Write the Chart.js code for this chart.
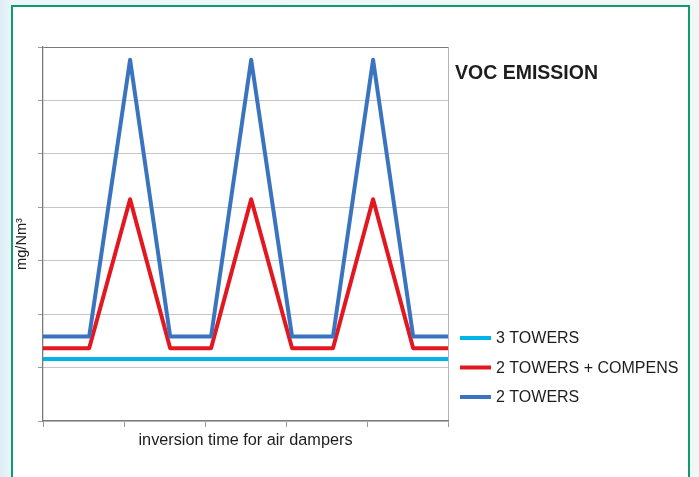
<!DOCTYPE html>
<html>
<head>
<meta charset="utf-8">
<script src="https://cdn.jsdelivr.net/npm/chart.js@4.4.1/dist/chart.umd.min.js"></script>
<style>
  html, body { margin: 0; padding: 0; }
  body {
    width: 699px; height: 477px; overflow: hidden; position: relative;
    background: linear-gradient(90deg, #dcedf4 0px, #eef6f9 12px, #f3f6f7 100%);
  }
  .frame {
    position: absolute; left: 11px; top: 5px; width: 675px; height: 490px;
    border: 2.5px solid #0d9c6c; background: #fff;
  }
  .wrap { position: absolute; left: 0; top: 0; width: 699px; height: 477px; }
</style>
</head>
<body>
<div class="frame"></div>
<div class="wrap"><canvas id="vocChart"></canvas></div>
<script>
// inversion time (x) and emission levels (mg/Nm3)
const xPoints     = [0, 1.14, 2.15, 3.14, 4.15, 5.14, 6.15, 7.16, 8.15, 9.14, 10];
const towers3     = [1.16, 1.16, 1.16, 1.16, 1.16, 1.16, 1.16, 1.16, 1.16, 1.16, 1.16];
const towers2comp = [1.36, 1.36, 4.15, 1.36, 1.36, 4.15, 1.36, 1.36, 4.15, 1.36, 1.36];
const towers2     = [1.58, 1.58, 6.76, 1.58, 1.58, 6.76, 1.58, 1.58, 6.76, 1.58, 1.58];
const seriesNames = ["3 TOWERS", "2 TOWERS + COMPENS", "2 TOWERS"];
const seriesColors = ["#00b4e8", "#e3171f", "#3a74c0"];

const FONT = "'Liberation Sans', Arial, Helvetica, sans-serif";

function toXY(ys) {
  return ys.map((y, i) => ({ x: xPoints[i], y: y }));
}

// title, legend and y axis label drawn around the plot
const sidePanel = {
  id: "sidePanel",
  afterDraw(chart) {
    const ctx = chart.ctx;
    const left = chart.chartArea.right + 7;
    ctx.save();
    ctx.fillStyle = "#1d1d1d";
    ctx.textBaseline = "middle";
    ctx.font = "bold 19.5px " + FONT;
    ctx.fillText("VOC EMISSION", left, 74);

    ctx.font = "16px " + FONT;
    seriesNames.forEach((name, i) => {
      const y = 338 + i * 29.5;
      ctx.strokeStyle = seriesColors[i];
      ctx.lineWidth = 4;
      ctx.beginPath();
      ctx.moveTo(left + 5, y);
      ctx.lineTo(left + 36, y);
      ctx.stroke();
      ctx.fillStyle = "#1d1d1d";
      ctx.fillText(name, left + 41, y + 1);
    });

    // y axis label, a bit below the middle like the original
    ctx.translate(22, 244);
    ctx.rotate(-Math.PI / 2);
    ctx.textAlign = "center";
    ctx.font = "14.6px " + FONT;
    ctx.fillText("mg/Nm³", 0, 0);
    ctx.restore();
  }
};

new Chart(document.getElementById("vocChart"), {
  type: "line",
  data: {
    datasets: [
      { label: seriesNames[2], data: toXY(towers2), borderColor: seriesColors[2] },
      { label: seriesNames[1], data: toXY(towers2comp), borderColor: seriesColors[1] },
      { label: seriesNames[0], data: toXY(towers3), borderColor: seriesColors[0] },
    ],
  },
  options: {
    responsive: true,
    maintainAspectRatio: false,
    animation: false,
    layout: { padding: { left: 0, top: 47, right: 251, bottom: 0 } },
    elements: {
      line: { borderWidth: 4, tension: 0, borderJoinStyle: "round", fill: false },
      point: { radius: 0 },
    },
    plugins: {
      legend: { display: false },
      tooltip: { enabled: false },
    },
    scales: {
      x: {
        type: "linear",
        min: 0,
        max: 10,
        ticks: { stepSize: 2, display: false },
        grid: {
          color: ctx => ctx.tick && ctx.tick.value === 10 ? "#b4b4b4" : "rgba(0,0,0,0)",
          tickColor: "#9a9a9a",
          tickLength: 6,
        },
        border: { color: "#7a7a7a", width: 1.3 },
        title: {
          display: true,
          text: "inversion time for air dampers",
          color: "#1d1d1d",
          font: { family: FONT, size: 16.25 },
          padding: { top: 0, bottom: 27 },
        },
        afterFit(scale) { scale.height = 56; },
      },
      y: {
        min: 0,
        max: 7,
        ticks: { stepSize: 1, display: false },
        grid: {
          color: ctx => ctx.tick && ctx.tick.value === 7 ? "#7a7a7a" : "#c6c6c6",
          tickColor: "#9a9a9a",
          tickLength: 5,
        },
        border: { color: "#7a7a7a", width: 1.3 },
        afterFit(scale) { scale.width = 43; },
      },
    },
  },
  plugins: [sidePanel],
});
</script>
</body>
</html>
